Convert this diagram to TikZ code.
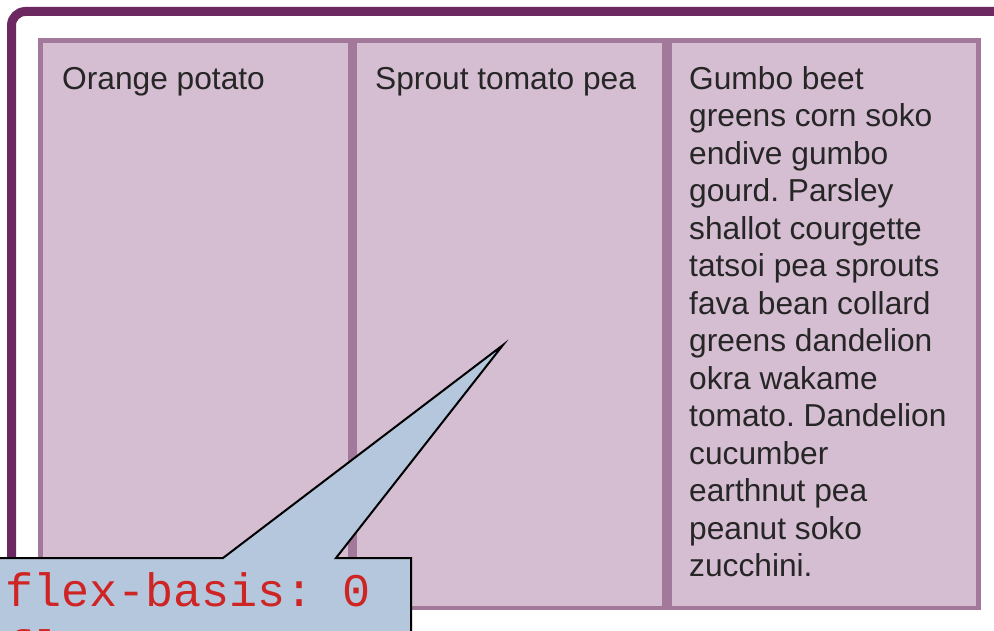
\documentclass[tikz,border=0pt]{standalone}
\usepackage{fontspec}
\setmainfont{Liberation Sans}
\newfontfamily\codefont{Liberation Mono}
\definecolor{framepurple}{HTML}{6C2860}
\definecolor{itemfill}{HTML}{D5BDD2}
\definecolor{itemline}{HTML}{A3799B}
\definecolor{calloutfill}{HTML}{B5C7DC}
\definecolor{codered}{HTML}{CF2424}
\begin{document}
\begin{tikzpicture}[x=1pt,y=-1pt,
  flexitem/.style={draw=itemline, fill=itemfill, line width=4.5pt, inner sep=0pt,
    minimum width=310pt, minimum height=567.5pt, anchor=north west},
  itemtext/.style={anchor=north west, inner sep=0pt,
    font=\fontsize{31.7}{37.5}\selectfont\frenchspacing, align=left, text=black!85},
  codetext/.style={anchor=north west, inner sep=0pt, text=codered,
    font=\codefont\fontsize{46.8}{57}\selectfont\frenchspacing, align=left}]
  \useasboundingbox (0,0) rectangle (994,631);
  \clip (0,0) rectangle (994,631);
  \fill[white] (0,0) rectangle (994,631);

  % flex container
  \draw[framepurple, line width=9pt, rounded corners=14pt] (11.5,11.5) rectangle (1012,650);

  % flex items
  \node[flexitem] (item1) at (38.25,38.25) {};
  \node[flexitem] (item2) at (352.25,38.25) {};
  \node[flexitem, minimum width=309pt] (item3) at (667.25,38.25) {};

  % item contents (first baseline at y = 89; strut height is 0.7 x 37.5)
  \node[itemtext] (t1) at (62,62.75) {\strut Orange potato};
  \node[itemtext] (t2) at (375,62.75) {\strut Sprout tomato pea};
  \node[itemtext] (t3) at (689,62.75) {\strut Gumbo beet\\greens corn soko\\endive gumbo\\gourd. Parsley\\
    shallot courgette\\tatsoi pea sprouts\\fava bean collard\\greens dandelion\\okra wakame\\
    tomato. Dandelion\\cucumber\\earthnut pea\\peanut soko\\zucchini.};

  % callout
  \coordinate (tip) at (503,345);
  \draw[fill=calloutfill, line width=2pt, line join=miter]
    (-20,558) -- (223,558) -- (tip) -- (336,558) -- (411,558) -- (411,660) -- (-20,660) -- cycle;
  \node[codetext] (code) at (5,566.1) {\strut flex-basis: 0\\flex-grow: 1};
\end{tikzpicture}
\end{document}
